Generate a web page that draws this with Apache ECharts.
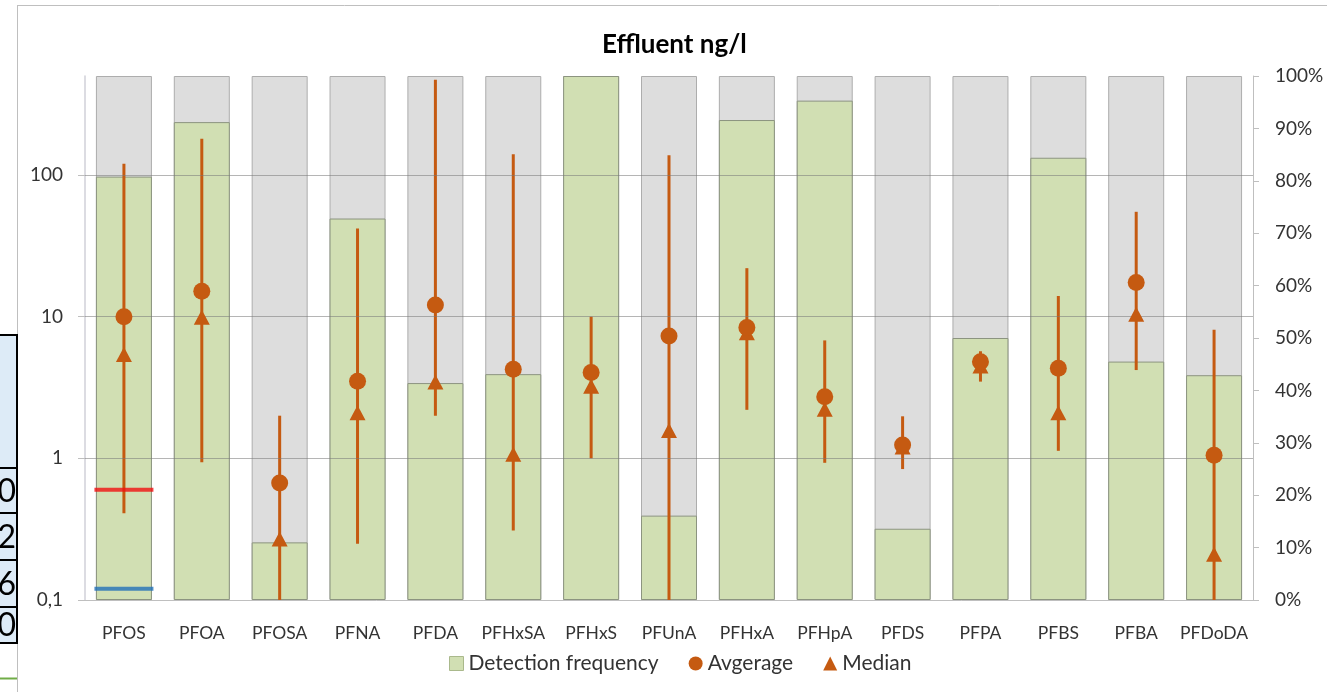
<!DOCTYPE html>
<html>
<head>
<meta charset="utf-8">
<script src="https://cdn.jsdelivr.net/npm/echarts@6/dist/echarts.min.js"></script>
<style>
  html, body { margin: 0; padding: 0; background: #fff; }
  #main { width: 1327px; height: 692px; }
</style>
</head>
<body>
<div id="main"></div>
<script>
const categories = ['PFOS', 'PFOA', 'PFOSA', 'PFNA', 'PFDA', 'PFHxSA', 'PFHxS', 'PFUnA', 'PFHxA', 'PFHpA', 'PFDS', 'PFPA', 'PFBS', 'PFBA', 'PFDoDA'];
// detection frequency in %, grey background = 100 %
const detectionFreq = [80.8, 91.2, 11.0, 72.8, 41.4, 43.1, 100, 16.1, 91.6, 95.3, 13.6, 50.0, 84.4, 45.5, 42.9];
const fullPct = [100, 100, 100, 100, 100, 100, 100, 100, 100, 100, 100, 100, 100, 100, 100];
// concentrations ng/l (log axis)
const average = [10, 15.1, 0.67, 3.5, 12.1, 4.25, 4.03, 7.3, 8.4, 2.72, 1.24, 4.81, 4.32, 17.4, 1.05];
const median = [5.4, 9.9, 0.27, 2.1, 3.46, 1.07, 3.23, 1.57, 7.7, 2.22, 1.2, 4.48, 2.1, 10.4, 0.21];
const minVal = [0.41, 0.94, 0.05, 0.25, 2.0, 0.31, 1.0, 0.05, 2.2, 0.93, 0.84, 3.48, 1.13, 4.2, 0.05];
const maxVal = [120, 180, 2.0, 42, 470, 140, 10, 138, 22, 6.8, 1.98, 5.7, 14, 55, 8.1];
const gridValues = [1, 10, 100];
const logLabels = [0.1, 1, 10, 100];
// the red / blue limit marks drawn on PFOS
const pfosLimits = [0.6, 0.12];
// cut-off table at the left edge
const tableDigits = ['0', '2', '6', '0'];

const ORANGE = '#C55A11';
const FONT = 'Lato';

const chart = echarts.init(document.getElementById('main'));

const tableRows = [468, 513, 560, 607, 643];
const graphic = [
  { type: 'line', shape: { x1: 17.5, y1: 5, x2: 17.5, y2: 692 }, style: { stroke: '#BFBFBF', lineWidth: 1 } },
  { type: 'line', shape: { x1: 17, y1: 5.5, x2: 1327, y2: 5.5 }, style: { stroke: '#BFBFBF', lineWidth: 1 } },
  { type: 'rect', shape: { x: -3, y: 335, width: 20, height: 308 }, style: { fill: '#DDEBF7', stroke: '#000', lineWidth: 2 } },
  { type: 'line', shape: { x1: 0, y1: 678.5, x2: 17, y2: 678.5 }, style: { stroke: '#70AD47', lineWidth: 2 } },
];
for (let i = 0; i < 4; i++) {
  graphic.push({ type: 'line', shape: { x1: 0, y1: tableRows[i], x2: 17, y2: tableRows[i] }, style: { stroke: '#000', lineWidth: 2 } });
  graphic.push({
    type: 'text', x: 16, y: (tableRows[i] + tableRows[i + 1]) / 2 + 1,
    style: { text: tableDigits[i], fill: '#000', font: '32px Lato', textAlign: 'right', textVerticalAlign: 'middle' },
  });
}

const options = {
  backgroundColor: '#fff',
  textStyle: { fontFamily: FONT },
  title: {
    text: 'Effluent ng/l',
    left: 597,
    top: 27,
    textStyle: { fontFamily: FONT, fontSize: 26, fontWeight: 'bold', color: '#000' },
  },
  legend: {
    bottom: 13,
    left: 444,
    itemGap: 30,
    itemWidth: 14,
    itemHeight: 14,
    textStyle: { fontFamily: FONT, fontSize: 21, color: '#333' },
    data: [
      { name: 'Detection frequency', icon: 'rect', itemStyle: { color: '#D1DFB3', borderColor: '#AAB98C', borderWidth: 1 } },
      { name: 'Avgerage', icon: 'circle', itemStyle: { color: ORANGE } },
      { name: 'Median', icon: 'triangle', itemStyle: { color: ORANGE } },
    ],
  },
  grid: { left: 85, right: 74, top: 76, bottom: 92 },
  xAxis: {
    type: 'category',
    data: categories,
    axisLine: { lineStyle: { color: '#BFBFBF' } },
    axisTick: { show: false },
    axisLabel: { fontFamily: FONT, fontSize: 17.5, color: '#333', margin: 24, interval: 0 },
  },
  yAxis: [
    {
      type: 'log',
      logBase: 10,
      min: 0.1,
      max: 500,
      axisLine: { show: true, lineStyle: { color: '#D0D0D8', width: 1.5 } },
      axisTick: { show: true, length: 7, lineStyle: { color: '#BFBFBF' } },
      splitLine: { show: false },
      axisLabel: {
        fontFamily: FONT, fontSize: 19, color: '#333', margin: 22,
        showMaxLabel: false,
        formatter: (v) => (logLabels.indexOf(v) >= 0 ? String(v).replace('.', ',') : ''),
      },
    },
    {
      type: 'value',
      min: 0,
      max: 100,
      interval: 10,
      position: 'right',
      axisLine: { show: true, lineStyle: { color: '#BFBFBF' } },
      axisTick: { show: true, length: 6, lineStyle: { color: '#BFBFBF' } },
      splitLine: { show: false },
      axisLabel: { fontFamily: FONT, fontSize: 19, color: '#333', margin: 22, formatter: '{value}%' },
    },
  ],
  series: [
    {
      name: 'total',
      type: 'bar',
      yAxisIndex: 1,
      barWidth: 56,
      z: 1,
      silent: true,
      itemStyle: { color: '#DDDDDD', borderColor: '#ADADAD', borderWidth: 1 },
      data: fullPct,
    },
    {
      name: 'Detection frequency',
      type: 'bar',
      yAxisIndex: 1,
      barWidth: 56,
      barGap: '-100%',
      z: 1,
      itemStyle: { color: '#D1DFB3', borderColor: '#8C9480', borderWidth: 1 },
      data: detectionFreq,
    },
    {
      name: 'grid',
      type: 'line',
      yAxisIndex: 0,
      data: [],
      z: 2,
      markLine: {
        silent: true,
        symbol: 'none',
        label: { show: false },
        lineStyle: { color: 'rgba(120,120,120,0.55)', width: 1, type: 'solid' },
        data: gridValues.map((v) => ({ yAxis: v })),
      },
    },
    {
      name: 'range',
      type: 'custom',
      yAxisIndex: 0,
      z: 3,
      clip: true,
      silent: true,
      renderItem: (params, api) => {
        const lo = api.coord([api.value(0), api.value(1)]);
        const hi = api.coord([api.value(0), api.value(2)]);
        return {
          type: 'line',
          shape: { x1: lo[0], y1: lo[1], x2: hi[0], y2: hi[1] },
          style: { stroke: ORANGE, lineWidth: 3 },
        };
      },
      data: categories.map((c, i) => [i, minVal[i], maxVal[i]]),
    },
    {
      name: 'limits',
      type: 'scatter',
      yAxisIndex: 0,
      z: 4,
      symbol: 'rect',
      symbolSize: [59, 4],
      silent: true,
      data: [
        { value: [0, pfosLimits[0]], itemStyle: { color: '#F01010' } },
        { value: [0, pfosLimits[1]], itemStyle: { color: '#2270B8' } },
      ],
    },
    {
      name: 'Median',
      type: 'scatter',
      yAxisIndex: 0,
      z: 5,
      symbol: 'triangle',
      symbolSize: [16, 15],
      itemStyle: { color: ORANGE, opacity: 1 },
      data: median,
    },
    {
      name: 'Avgerage',
      type: 'scatter',
      yAxisIndex: 0,
      z: 6,
      symbol: 'circle',
      symbolSize: 17,
      itemStyle: { color: ORANGE, opacity: 1 },
      data: average,
    },
  ],
  graphic: graphic,
};

chart.setOption(options);
</script>
</body>
</html>
